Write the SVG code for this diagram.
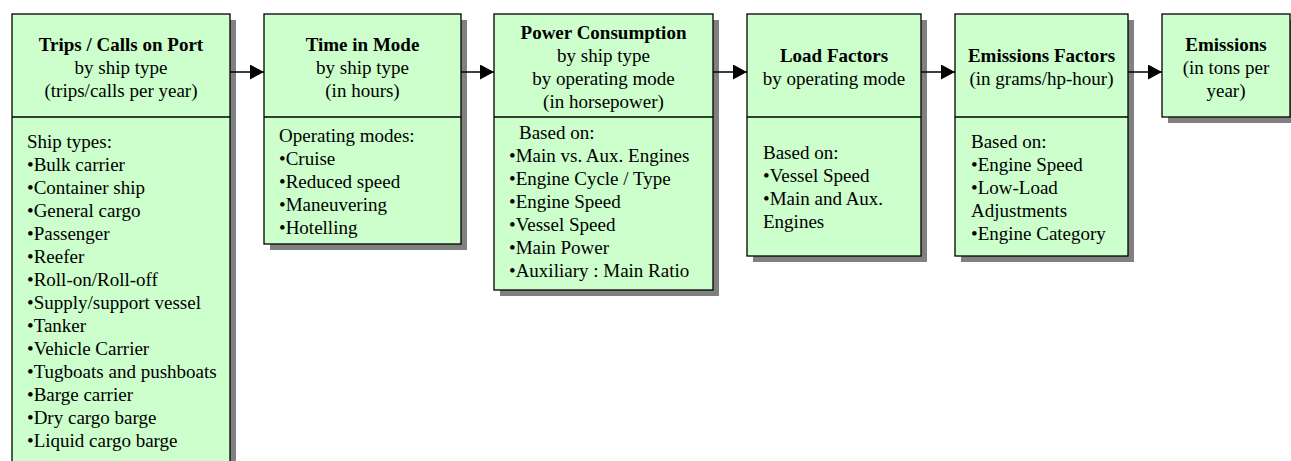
<svg xmlns="http://www.w3.org/2000/svg" width="1291" height="461" viewBox="0 0 1291 461">
  <defs>
    <style>
      .shadow { fill: #808080; }
      .box { fill: #ccffcc; stroke: #000; stroke-width: 1.3; }
      .div { stroke: #000; stroke-width: 1.3; }
      text { font-family: "Liberation Serif", "Times New Roman", serif; font-size: 19px; fill: #000; }
      .c { text-anchor: middle; }
      .b { font-weight: bold; }
      .conn { stroke: #000; stroke-width: 1.5; fill: none; marker-end: url(#arrow); }
    </style>
    <marker id="arrow" viewBox="0 0 14 15" refX="14" refY="7.5" markerWidth="14" markerHeight="15" markerUnits="userSpaceOnUse" orient="auto">
      <path d="M0,0 L14,7.5 L0,15 Z" fill="#000"/>
    </marker>
  </defs>

  <rect width="1291" height="461" fill="#fff"/>

  <!-- Trips / Calls on Port -->
  <g id="trips">
    <rect class="shadow" x="18" y="20" width="218" height="460"/>
    <rect class="box" x="12" y="14" width="218" height="460"/>
    <line class="div" x1="12" y1="117" x2="230" y2="117"/>
    <text class="c b" x="121" y="51">Trips / Calls on Port</text>
    <text class="c" x="121" y="74">by ship type</text>
    <text class="c" x="121" y="97">(trips/calls per year)</text>
    <text x="27" y="148">Ship types:</text>
    <text x="27" y="171">•Bulk carrier</text>
    <text x="27" y="194">•Container ship</text>
    <text x="27" y="217">•General cargo</text>
    <text x="27" y="240">•Passenger</text>
    <text x="27" y="263">•Reefer</text>
    <text x="27" y="286">•Roll-on/Roll-off</text>
    <text x="27" y="309">•Supply/support vessel</text>
    <text x="27" y="332">•Tanker</text>
    <text x="27" y="355">•Vehicle Carrier</text>
    <text x="27" y="378">•Tugboats and pushboats</text>
    <text x="27" y="401">•Barge carrier</text>
    <text x="27" y="424">•Dry cargo barge</text>
    <text x="27" y="447">•Liquid cargo barge</text>
  </g>

  <!-- Time in Mode -->
  <g id="time-in-mode">
    <rect class="shadow" x="270" y="20" width="197" height="230"/>
    <rect class="box" x="264" y="14" width="197" height="230"/>
    <line class="div" x1="264" y1="117" x2="461" y2="117"/>
    <text class="c b" x="362.5" y="51">Time in Mode</text>
    <text class="c" x="362.5" y="74">by ship type</text>
    <text class="c" x="362.5" y="97">(in hours)</text>
    <text x="279" y="142">Operating modes:</text>
    <text x="279" y="165">•Cruise</text>
    <text x="279" y="188">•Reduced speed</text>
    <text x="279" y="211">•Maneuvering</text>
    <text x="279" y="234">•Hotelling</text>
  </g>

  <!-- Power Consumption -->
  <g id="power-consumption">
    <rect class="shadow" x="500" y="20" width="219" height="276"/>
    <rect class="box" x="494" y="14" width="219" height="276"/>
    <line class="div" x1="494" y1="117" x2="713" y2="117"/>
    <text class="c b" x="603.5" y="39">Power Consumption</text>
    <text class="c" x="603.5" y="62">by ship type</text>
    <text class="c" x="603.5" y="85">by operating mode</text>
    <text class="c" x="603.5" y="108">(in horsepower)</text>
    <text x="519" y="139">Based on:</text>
    <text x="509" y="162">•Main vs. Aux. Engines</text>
    <text x="509" y="185">•Engine Cycle / Type</text>
    <text x="509" y="208">•Engine Speed</text>
    <text x="509" y="231">•Vessel Speed</text>
    <text x="509" y="254">•Main Power</text>
    <text x="509" y="277">•Auxiliary : Main Ratio</text>
  </g>

  <!-- Load Factors -->
  <g id="load-factors">
    <rect class="shadow" x="753" y="20" width="174" height="242"/>
    <rect class="box" x="747" y="14" width="174" height="242"/>
    <line class="div" x1="747" y1="117" x2="921" y2="117"/>
    <text class="c b" x="834" y="62">Load Factors</text>
    <text class="c" x="834" y="85">by operating mode</text>
    <text x="763" y="159">Based on:</text>
    <text x="763" y="182">•Vessel Speed</text>
    <text x="763" y="205">•Main and Aux.</text>
    <text x="763" y="228">Engines</text>
  </g>

  <!-- Emissions Factors -->
  <g id="emissions-factors">
    <rect class="shadow" x="961" y="20" width="173" height="242"/>
    <rect class="box" x="955" y="14" width="173" height="242"/>
    <line class="div" x1="955" y1="117" x2="1128" y2="117"/>
    <text class="c b" x="1041.5" y="62">Emissions Factors</text>
    <text class="c" x="1041.5" y="85">(in grams/hp-hour)</text>
    <text x="971" y="148">Based on:</text>
    <text x="971" y="171">•Engine Speed</text>
    <text x="971" y="194">•Low-Load</text>
    <text x="971" y="217">Adjustments</text>
    <text x="971" y="240">•Engine Category</text>
  </g>

  <!-- Emissions -->
  <g id="emissions">
    <rect class="shadow" x="1168" y="20" width="128" height="103"/>
    <rect class="box" x="1162" y="14" width="128" height="103"/>
    <text class="c b" x="1226" y="51">Emissions</text>
    <text class="c" x="1226" y="74">(in tons per</text>
    <text class="c" x="1226" y="97">year)</text>
  </g>

  <!-- Connectors -->
  <g id="connectors">
    <line class="conn" x1="230" y1="72" x2="264" y2="72"/>
    <line class="conn" x1="461" y1="72" x2="494" y2="72"/>
    <line class="conn" x1="713" y1="72" x2="747" y2="72"/>
    <line class="conn" x1="921" y1="72" x2="955" y2="72"/>
    <line class="conn" x1="1128" y1="72" x2="1162" y2="72"/>
  </g>
</svg>
